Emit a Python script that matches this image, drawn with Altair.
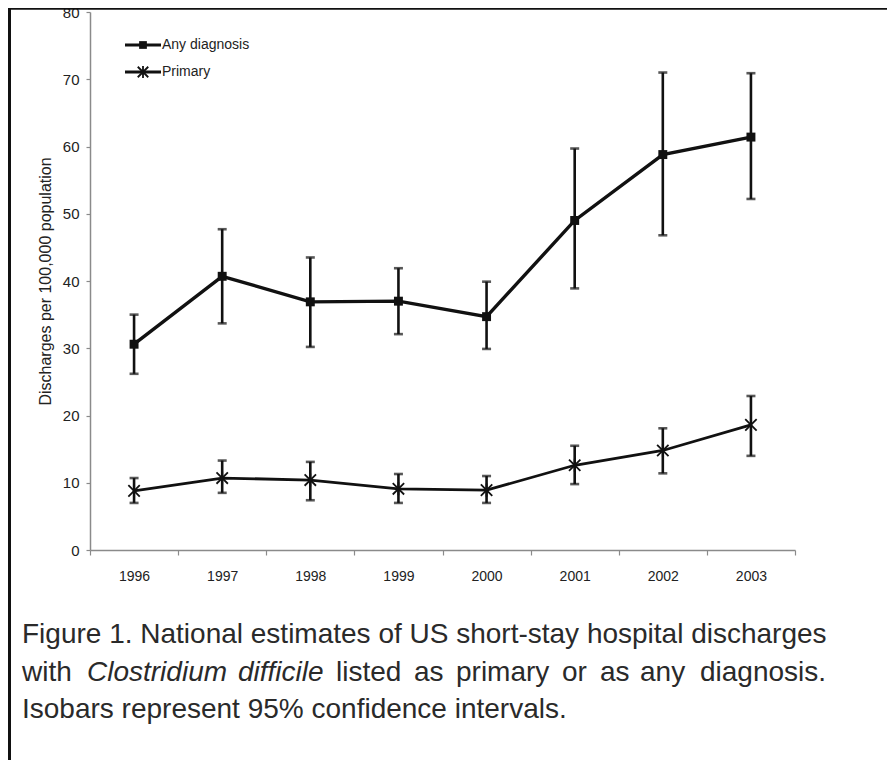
import altair as alt
import pandas as pd

years = [1996, 1997, 1998, 1999, 2000, 2001, 2002, 2003]
any_dx = [30.6, 40.7, 36.9, 37.0, 34.7, 49.0, 58.8, 61.4]
any_lo = [26.2, 33.7, 30.2, 32.1, 29.9, 38.9, 46.8, 52.2]
any_hi = [35.0, 47.7, 43.5, 41.9, 39.9, 59.7, 71.0, 70.9]
prim = [8.8, 10.7, 10.4, 9.1, 8.9, 12.6, 14.8, 18.6]
prim_lo = [7.0, 8.5, 7.4, 7.0, 7.0, 9.8, 11.4, 14.0]
prim_hi = [10.7, 13.3, 13.1, 11.3, 11.0, 15.5, 18.1, 22.9]

y_ticks = [0, 10, 20, 30, 40, 50, 60, 70, 80]
x_bounds = [1995.5, 1996.5, 1997.5, 1998.5, 1999.5, 2000.5, 2001.5, 2002.5, 2003.5]
y_title = "Discharges per 100,000 population"
legend_labels = ["Any diagnosis", "Primary"]

caption_1 = "Figure 1. National estimates of US short-stay hospital discharges"
caption_2_words = ["with", "Clostridium", "difficile", "listed", "as", "primary", "or", "as", "any", "diagnosis."]
caption_2_italic = [False, True, True, False, False, False, False, False, False, False]
caption_2_x = [22, 87, 238, 336, 414, 456, 562, 600, 640, 700]
caption_3 = "Isobars represent 95% confidence intervals."

FONT = "Liberation Sans"
AX = "#8a8a8a"
INK = "#111111"
STAR = "M-1,-1L1,1M-1,1L1,-1M0,-1.15L0,1.15"

# plot origin on page is (90, 12)
OX, OY = 90, 12
PW, PH = 705, 538
HALF_STEP = PW / len(years) / 2

any_df = pd.DataFrame({"year": years, "v": any_dx, "lo": any_lo, "hi": any_hi})
prim_df = pd.DataFrame({"year": years, "v": prim, "lo": prim_lo, "hi": prim_hi})
any_caps = pd.DataFrame({"year": years + years, "c": any_lo + any_hi})
prim_caps = pd.DataFrame({"year": years + years, "c": prim_lo + prim_hi})

x_axis = alt.Axis(
    values=x_bounds,
    labelExpr="datum.value < 2003 ? format(datum.value + 0.5, 'd') : ''",
    labelOffset=HALF_STEP,
    labelOverlap=False, labelFlush=False,
    tickSize=5, tickColor=AX, tickWidth=1.2,
    domainColor=AX, domainWidth=1.5,
    labelFont=FONT, labelFontSize=14, labelColor="#222222", labelPadding=14,
    grid=False, title=None,
)
y_axis = alt.Axis(
    values=y_ticks,
    labelOverlap=False,
    tickSize=4, tickColor=AX, tickWidth=1.2,
    domainColor=AX, domainWidth=1.5,
    labelFont=FONT, labelFontSize=15, labelColor="#222222", labelPadding=7,
    grid=False,
    title=y_title, titleFont=FONT, titleFontSize=16, titleFontWeight="normal",
    titleColor="#222222", titleX=45 - OX, titleY=281 - OY, titleAngle=270,
    titleAlign="center", titleBaseline="middle",
)
x_scale = alt.Scale(domain=[1995.5, 2003.5], nice=False, zero=False)
y_scale = alt.Scale(domain=[0, 80], nice=False)

def X(field="year"):
    return alt.X(f"{field}:Q", scale=x_scale, axis=x_axis)

def Y(field):
    return alt.Y(f"{field}:Q", scale=y_scale, axis=y_axis)

layers = []
for df, caps, lw, shape, size, filled in [
    (any_df, any_caps, 3.4, "square", 80, True),
    (prim_df, prim_caps, 2.8, STAR, 130, False),
]:
    base = alt.Chart(df)
    layers.append(base.mark_line(color=INK, strokeWidth=lw).encode(x=X(), y=Y("v")))
    layers.append(base.mark_rule(color=INK, strokeWidth=2.6).encode(x=X(), y=Y("lo"), y2="hi:Q"))
    layers.append(alt.Chart(caps).mark_tick(color=INK, orient="horizontal", size=9, thickness=2.6)
                  .encode(x=X(), y=Y("c")))
    layers.append(base.mark_point(shape=shape, size=size, filled=filled, color=INK,
                                  strokeWidth=1.8 if not filled else 0, opacity=1)
                  .encode(x=X(), y=Y("v")))

one = pd.DataFrame({"k": [0]})

# legend
for i, (lab, shape, size, filled) in enumerate([
    (legend_labels[0], "square", 60, True),
    (legend_labels[1], STAR, 110, False),
]):
    ly = [45, 72][i] - OY
    layers.append(alt.Chart(one).mark_rule(color=INK, strokeWidth=3).encode(
        x=alt.value(125 - OX), x2=alt.value(161 - OX), y=alt.value(ly)))
    layers.append(alt.Chart(one).mark_point(shape=shape, size=size, filled=filled, color=INK,
                                            strokeWidth=1.8 if not filled else 0, opacity=1).encode(
        x=alt.value(143 - OX), y=alt.value(ly)))
    layers.append(alt.Chart(one).mark_text(font=FONT, fontSize=14, color="#222222", align="left",
                                           baseline="middle").encode(
        x=alt.value(162 - OX), y=alt.value(ly), text=alt.value(lab)))

# caption
CAP = dict(font=FONT, fontSize=28, color="#2a2a2a", align="left", baseline="alphabetic")
layers.append(alt.Chart(one).mark_text(**CAP).encode(
    x=alt.value(22 - OX), y=alt.value(643 - OY), text=alt.value(caption_1)))
for w, it, xx in zip(caption_2_words, caption_2_italic, caption_2_x):
    kw = dict(CAP)
    if it:
        kw["fontStyle"] = "italic"
    layers.append(alt.Chart(one).mark_text(**kw).encode(
        x=alt.value(xx - OX), y=alt.value(681 - OY), text=alt.value(w)))
layers.append(alt.Chart(one).mark_text(**CAP).encode(
    x=alt.value(22 - OX), y=alt.value(718 - OY), text=alt.value(caption_3)))

# frame lines (top and left)
layers.append(alt.Chart(one).mark_rule(color="#111111", strokeWidth=2.5).encode(
    x=alt.value(8 - OX), x2=alt.value(900 - OX), y=alt.value(8.5 - OY)))
layers.append(alt.Chart(one).mark_rule(color="#111111", strokeWidth=3).encode(
    x=alt.value(9.5 - OX), y=alt.value(8 - OY), y2=alt.value(780 - OY)))

chart = alt.layer(*layers).properties(
    width=PW, height=PH,
    padding={"left": 82, "top": 4, "right": 92, "bottom": 210},
    autosize="none",
    background="white",
).configure_view(stroke=None)

chart.save("out.html", embed_options={"renderer": "svg", "actions": False})
